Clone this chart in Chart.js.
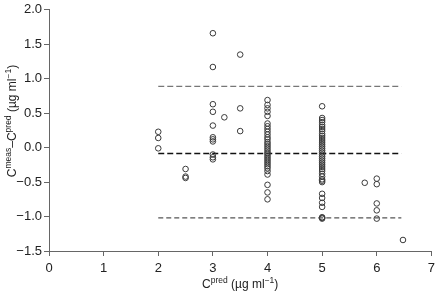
<!DOCTYPE html>
<html>
<head>
<meta charset="utf-8">
<script src="https://cdn.jsdelivr.net/npm/chart.js@4.4.1/dist/chart.umd.min.js"></script>
<style>
  html, body { margin: 0; padding: 0; background: #fff; }
  #wrap { width: 440px; height: 299px; }
</style>
</head>
<body>
<div id="wrap"><canvas id="baChart" width="440" height="299"></canvas></div>
<script>
// predicted concentration levels (x) and measured-minus-predicted differences at each level
const predLevels = [2, 2.5, 3, 3.21, 3.5, 4, 5, 5.78, 6, 6.48];
const diffValues = [
    [0.23, 0.14, -0.01],
    [-0.31, -0.42, -0.44],
    [1.66, 1.17, 0.63, 0.52, 0.32, 0.15, 0.12, 0.09, -0.10, -0.14, -0.17],
    [0.44],
    [1.35, 0.57, 0.24],
    [0.69, 0.62, 0.57, 0.52, 0.46, 0.35, 0.31, 0.27, 0.23, 0.19, 0.15, 0.12, 0.08, 0.05, 0.02,
     -0.01, -0.04, -0.07, -0.09, -0.12, -0.15, -0.18, -0.21, -0.24, -0.27, -0.30, -0.34, -0.39,
     -0.54, -0.65, -0.75],
    [0.60, 0.43, 0.40, 0.37, 0.33, 0.30, 0.27, 0.24, 0.20, 0.17, 0.14, 0.11, 0.08, 0.05, 0.02,
     -0.01, -0.04, -0.07, -0.10, -0.13, -0.16, -0.19, -0.22, -0.25, -0.28, -0.31, -0.34, -0.38,
     -0.42, -0.46, -0.48, -0.50, -0.67, -0.73, -0.80, -0.86, -1.01, -1.02, -1.03],
    [-0.51],
    [-0.45, -0.53, -0.81, -0.91, -1.03],
    [-1.34]
];

// mean difference and limits of agreement
const meanDiff = -0.085;
const upperLimit = 0.89;
const lowerLimit = -1.02;
const limitRange = [2.0, 6.45];

const xTicks = [0, 1, 2, 3, 4, 5, 6, 7];
const yTicks = [-1.5, -1.0, -0.5, 0.0, 0.5, 1.0, 1.5, 2.0];

const points = [];
predLevels.forEach(function (x, i) {
    diffValues[i].forEach(function (d) { points.push({ x: x, y: d }); });
});

function hLine(v) {
    return [{ x: limitRange[0], y: v }, { x: limitRange[1], y: v }];
}

const FONT = '"Liberation Sans", Arial, Helvetica, sans-serif';

// draws a string made of [text, isSuperscript] pieces, centred on (0,0)
function drawRich(ctx, parts) {
    const base = '12px ' + FONT, sup = '8.5px ' + FONT;
    let total = 0;
    parts.forEach(function (p) {
        ctx.font = p[1] ? sup : base;
        total += ctx.measureText(p[0]).width;
    });
    let x = -total / 2;
    ctx.textBaseline = 'middle';
    ctx.textAlign = 'left';
    parts.forEach(function (p) {
        ctx.font = p[1] ? sup : base;
        ctx.fillText(p[0], x, p[1] ? -4 : 0);
        x += ctx.measureText(p[0]).width;
    });
}

const axisTitles = {
    id: 'axisTitles',
    afterDraw(chart) {
        const ctx = chart.ctx;
        const area = chart.chartArea;
        ctx.save();
        ctx.fillStyle = '#222';
        ctx.translate((area.left + area.right) / 2, 285);
        drawRich(ctx, [['C', false], ['pred', true], [' (µg ml', false], ['−1', true], [')', false]]);
        ctx.restore();

        ctx.save();
        ctx.fillStyle = '#222';
        ctx.translate(13, 121);
        ctx.rotate(-Math.PI / 2);
        drawRich(ctx, [['C', false], ['meas', true], ['–C', false], ['pred', true],
                       [' (µg ml', false], ['−1', true], [')', false]]);
        ctx.restore();
    }
};

const dashStyle = { type: 'line', pointRadius: 0, fill: false, showLine: true, borderWidth: 1.2 };

new Chart(document.getElementById('baChart').getContext('2d'), {
    type: 'scatter',
    data: {
        datasets: [
            {
                label: 'Differences',
                data: points,
                pointRadius: 2.8,
                pointHoverRadius: 2.8,
                borderWidth: 1,
                borderColor: '#3a3a3a',
                backgroundColor: 'rgba(0,0,0,0)'
            },
            Object.assign({ label: 'Upper limit', data: hLine(upperLimit), borderColor: '#777', borderDash: [6, 3] }, dashStyle),
            Object.assign({ label: 'Mean', data: hLine(meanDiff), borderColor: '#111', borderDash: [6, 3] }, dashStyle, { borderWidth: 1.6 }),
            Object.assign({ label: 'Lower limit', data: hLine(lowerLimit), borderColor: '#555', borderDash: [5, 3] }, dashStyle)
        ]
    },
    options: {
        responsive: false,
        animation: false,
        layout: { padding: { top: 7, right: 7, left: 0, bottom: 0 } },
        plugins: {
            legend: { display: false },
            tooltip: { enabled: false }
        },
        scales: {
            x: {
                type: 'linear',
                min: 0,
                max: 7,
                afterBuildTicks: function (axis) { axis.ticks = xTicks.map(function (v) { return { value: v }; }); },
                afterFit: function (axis) { axis.height = 48; },
                grid: { drawOnChartArea: false, drawTicks: true, tickLength: 5, color: '#666', lineWidth: 1 },
                border: { display: true, color: '#666', width: 1 },
                ticks: { color: '#222', font: { family: FONT, size: 13 }, padding: 5, maxRotation: 0,
                         callback: function (v) { return String(v); } }
            },
            y: {
                type: 'linear',
                min: -1.5,
                max: 2.0,
                afterBuildTicks: function (axis) { axis.ticks = yTicks.map(function (v) { return { value: v }; }); },
                afterFit: function (axis) { axis.width = 49; },
                grid: { drawOnChartArea: false, drawTicks: true, tickLength: 5, color: '#666', lineWidth: 1 },
                border: { display: true, color: '#666', width: 1 },
                ticks: { color: '#222', font: { family: FONT, size: 13 }, padding: 2,
                         callback: function (v) { return (v < 0 ? '−' : '') + Math.abs(v).toFixed(1); } }
            }
        }
    },
    plugins: [axisTitles]
});
</script>
</body>
</html>
